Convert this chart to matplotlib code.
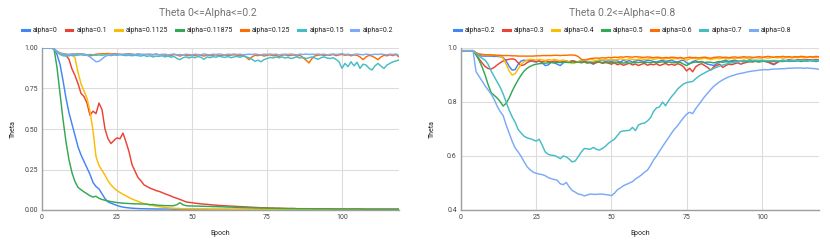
import matplotlib
matplotlib.use("Agg")
import matplotlib.pyplot as plt
from matplotlib.lines import Line2D

plt.rcParams['font.family'] = ['Roboto', 'DejaVu Sans']

epochs = list(range(120))

# ---- left chart: Theta 0<=Alpha<=0.2 ----
left_labels = ['alpha=0', 'alpha=0.1', 'alpha=0.1125', 'alpha=0.11875',
               'alpha=0.125', 'alpha=0.15', 'alpha=0.2']

a_0 = [1.0, 1.0, 1.0, 1.0, 0.995, 0.96, 0.90, 0.80, 0.69, 0.60,
       0.53, 0.46, 0.39, 0.34, 0.30, 0.26, 0.22, 0.17, 0.145, 0.13,
       0.10, 0.07, 0.05, 0.042, 0.035, 0.028, 0.022, 0.018, 0.015, 0.013,
       0.011, 0.010, 0.009, 0.008, 0.008, 0.007, 0.007, 0.007, 0.006, 0.006,
       0.006, 0.006, 0.006, 0.006, 0.005, 0.005, 0.005, 0.005, 0.005, 0.005,
       0.005, 0.005, 0.005, 0.004, 0.005, 0.004, 0.004, 0.004, 0.004, 0.004,
       0.004, 0.004, 0.004, 0.004, 0.004, 0.004, 0.004, 0.004, 0.004, 0.004,
       0.004, 0.004, 0.003, 0.004, 0.003, 0.003, 0.003, 0.003, 0.003, 0.003,
       0.003, 0.003, 0.003, 0.003, 0.003, 0.003, 0.003, 0.003, 0.003, 0.003,
       0.003, 0.003, 0.003, 0.003, 0.003, 0.003, 0.003, 0.003, 0.003, 0.003,
       0.003, 0.003, 0.003, 0.003, 0.003, 0.003, 0.003, 0.003, 0.003, 0.003,
       0.003, 0.003, 0.003, 0.003, 0.003, 0.003, 0.003, 0.003, 0.003, 0.003]

a_01 = [1.0, 1.0, 1.0, 1.0, 0.995, 0.975, 0.965, 0.96, 0.955, 0.93,
        0.87, 0.83, 0.78, 0.72, 0.70, 0.66, 0.585, 0.61, 0.595, 0.66,
        0.62, 0.50, 0.44, 0.41, 0.43, 0.445, 0.44, 0.475, 0.42, 0.36,
        0.28, 0.24, 0.20, 0.18, 0.155, 0.145, 0.135, 0.128, 0.12, 0.115,
        0.108, 0.10, 0.093, 0.086, 0.078, 0.072, 0.065, 0.058, 0.05, 0.047,
        0.045, 0.042, 0.04, 0.038, 0.036, 0.035, 0.033, 0.031, 0.03, 0.028,
        0.027, 0.026, 0.025, 0.024, 0.023, 0.022, 0.021, 0.02, 0.019, 0.018,
        0.017, 0.016, 0.015, 0.014, 0.014, 0.013, 0.012, 0.012, 0.011, 0.011,
        0.010, 0.010, 0.009, 0.009, 0.009, 0.008, 0.008, 0.008, 0.008, 0.007,
        0.007, 0.007, 0.007, 0.007, 0.007, 0.007, 0.007, 0.007, 0.006, 0.006,
        0.006, 0.006, 0.006, 0.006, 0.006, 0.006, 0.006, 0.006, 0.005, 0.005,
        0.005, 0.005, 0.005, 0.005, 0.005, 0.005, 0.005, 0.005, 0.005, 0.005]

a_01125 = [1.0, 1.0, 1.0, 1.0, 0.995, 0.975, 0.965, 0.96, 0.96, 0.958,
           0.955, 0.94, 0.85, 0.78, 0.735, 0.69, 0.61, 0.49, 0.33, 0.275,
           0.245, 0.215, 0.18, 0.155, 0.135, 0.12, 0.108, 0.097, 0.087, 0.077,
           0.068, 0.06, 0.053, 0.046, 0.04, 0.035, 0.031, 0.027, 0.024, 0.021,
           0.018, 0.016, 0.014, 0.012, 0.011, 0.01, 0.009, 0.008, 0.008, 0.007,
           0.007, 0.007, 0.006, 0.006, 0.006, 0.006, 0.005, 0.005, 0.005, 0.005,
           0.005, 0.005, 0.005, 0.004, 0.004, 0.004, 0.004, 0.004, 0.004, 0.004,
           0.004, 0.004, 0.004, 0.004, 0.004, 0.003, 0.003, 0.003, 0.003, 0.003,
           0.003, 0.003, 0.003, 0.003, 0.003, 0.003, 0.003, 0.003, 0.003, 0.003,
           0.003, 0.003, 0.003, 0.003, 0.003, 0.003, 0.003, 0.003, 0.003, 0.003,
           0.003, 0.003, 0.003, 0.003, 0.003, 0.003, 0.003, 0.003, 0.003, 0.003,
           0.003, 0.003, 0.003, 0.003, 0.003, 0.003, 0.003, 0.003, 0.003, 0.003]

a_011875 = [1.0, 1.0, 1.0, 1.0, 0.995, 0.88, 0.72, 0.56, 0.42, 0.31,
            0.23, 0.175, 0.14, 0.125, 0.112, 0.10, 0.088, 0.08, 0.085, 0.072,
            0.065, 0.06, 0.056, 0.052, 0.049, 0.046, 0.044, 0.042, 0.041, 0.04,
            0.039, 0.038, 0.038, 0.037, 0.037, 0.036, 0.033, 0.034, 0.031, 0.029,
            0.028, 0.027, 0.027, 0.026, 0.027, 0.033, 0.045, 0.032, 0.027, 0.025,
            0.025, 0.024, 0.024, 0.023, 0.023, 0.022, 0.022, 0.021, 0.021, 0.02,
            0.02, 0.019, 0.018, 0.018, 0.017, 0.016, 0.016, 0.015, 0.015, 0.014,
            0.014, 0.013, 0.013, 0.012, 0.012, 0.011, 0.011, 0.011, 0.01, 0.01,
            0.01, 0.009, 0.009, 0.009, 0.009, 0.008, 0.008, 0.008, 0.008, 0.008,
            0.007, 0.007, 0.007, 0.007, 0.007, 0.007, 0.007, 0.006, 0.006, 0.006,
            0.006, 0.006, 0.006, 0.006, 0.006, 0.006, 0.006, 0.005, 0.005, 0.005,
            0.005, 0.005, 0.005, 0.005, 0.005, 0.005, 0.005, 0.005, 0.005, 0.005]

a_0125 = [1.0, 1.0, 1.0, 1.0, 0.995, 0.98, 0.97, 0.965, 0.962, 0.96,
          0.962, 0.963, 0.965, 0.964, 0.962, 0.958, 0.952, 0.955, 0.962, 0.963,
          0.965, 0.964, 0.966, 0.963, 0.965, 0.964, 0.962, 0.958, 0.963, 0.965,
          0.962, 0.958, 0.963, 0.96, 0.955, 0.962, 0.96, 0.957, 0.962, 0.958,
          0.96, 0.955, 0.958, 0.952, 0.96, 0.956, 0.95, 0.958, 0.955, 0.952,
          0.957, 0.953, 0.958, 0.955, 0.95, 0.957, 0.953, 0.955, 0.958, 0.952,
          0.955, 0.957, 0.953, 0.956, 0.958, 0.955, 0.952, 0.957, 0.945, 0.928,
          0.945, 0.955, 0.953, 0.957, 0.95, 0.955, 0.958, 0.952, 0.955, 0.948,
          0.955, 0.958, 0.952, 0.955, 0.957, 0.95, 0.955, 0.94, 0.925, 0.908,
          0.935, 0.952, 0.955, 0.958, 0.953, 0.957, 0.955, 0.96, 0.953, 0.957,
          0.96, 0.955, 0.958, 0.952, 0.957, 0.955, 0.945, 0.928, 0.945, 0.955,
          0.95, 0.94, 0.928, 0.945, 0.955, 0.952, 0.958, 0.953, 0.96, 0.945]

a_015 = [1.0, 1.0, 1.0, 1.0, 0.995, 0.975, 0.96, 0.952, 0.95, 0.952,
         0.955, 0.953, 0.956, 0.958, 0.955, 0.957, 0.96, 0.958, 0.955, 0.957,
         0.955, 0.958, 0.956, 0.953, 0.957, 0.955, 0.958, 0.956, 0.953, 0.955,
         0.952, 0.955, 0.953, 0.95, 0.955, 0.948, 0.952, 0.945, 0.95, 0.948,
         0.952, 0.945, 0.95, 0.943, 0.948, 0.935, 0.928, 0.94, 0.945, 0.938,
         0.945, 0.94, 0.948, 0.942, 0.93, 0.945, 0.94, 0.947, 0.943, 0.95,
         0.945, 0.942, 0.948, 0.94, 0.945, 0.948, 0.943, 0.95, 0.945, 0.94,
         0.93, 0.918, 0.925, 0.915, 0.928, 0.935, 0.942, 0.938, 0.945, 0.94,
         0.945, 0.938, 0.942, 0.935, 0.94, 0.945, 0.938, 0.942, 0.935, 0.94,
         0.945, 0.938, 0.93, 0.94, 0.945, 0.938, 0.935, 0.94, 0.93, 0.915,
         0.875, 0.905, 0.885, 0.915, 0.89, 0.912, 0.874, 0.9, 0.895, 0.875,
         0.864, 0.89, 0.905, 0.888, 0.874, 0.895, 0.905, 0.915, 0.92, 0.926]

a_02 = [1.0, 1.0, 1.0, 1.0, 0.995, 0.98, 0.968, 0.962, 0.96, 0.96,
        0.962, 0.963, 0.962, 0.964, 0.96, 0.955, 0.945, 0.93, 0.915, 0.918,
        0.932, 0.948, 0.955, 0.958, 0.96, 0.962, 0.96, 0.962, 0.963, 0.96,
        0.962, 0.96, 0.963, 0.96, 0.962, 0.958, 0.962, 0.96, 0.963, 0.958,
        0.96, 0.962, 0.958, 0.96, 0.963, 0.958, 0.96, 0.957, 0.962, 0.96,
        0.958, 0.962, 0.96, 0.958, 0.963, 0.96, 0.958, 0.962, 0.96, 0.963,
        0.96, 0.958, 0.962, 0.96, 0.963, 0.96, 0.962, 0.958, 0.96, 0.962,
        0.96, 0.963, 0.96, 0.958, 0.962, 0.96, 0.963, 0.96, 0.962, 0.958,
        0.96, 0.962, 0.96, 0.963, 0.96, 0.958, 0.962, 0.96, 0.963, 0.96,
        0.962, 0.96, 0.963, 0.96, 0.962, 0.958, 0.96, 0.963, 0.96, 0.962,
        0.965, 0.96, 0.962, 0.958, 0.96, 0.963, 0.96, 0.958, 0.962, 0.96,
        0.958, 0.962, 0.96, 0.963, 0.96, 0.958, 0.962, 0.96, 0.963, 0.955]

# ---- right chart: Theta 0.2<=Alpha<=0.8 ----
right_labels = ['alpha=0.2', 'alpha=0.3', 'alpha=0.4', 'alpha=0.5',
                'alpha=0.6', 'alpha=0.7', 'alpha=0.8']

b_02 = [0.99, 0.99, 0.99, 0.99, 0.99, 0.98, 0.972, 0.97, 0.97, 0.97,
        0.97, 0.969, 0.969, 0.968, 0.965, 0.952, 0.932, 0.918, 0.92, 0.94,
        0.952, 0.955, 0.953, 0.955, 0.95, 0.948, 0.952, 0.945, 0.935, 0.937,
        0.948, 0.945, 0.94, 0.935, 0.945, 0.952, 0.948, 0.953, 0.95, 0.948,
        0.952, 0.95, 0.948, 0.945, 0.94, 0.947, 0.952, 0.955, 0.95, 0.953,
        0.95, 0.955, 0.952, 0.948, 0.955, 0.95, 0.953, 0.948, 0.952, 0.955,
        0.952, 0.95, 0.955, 0.953, 0.95, 0.948, 0.952, 0.955, 0.95, 0.953,
        0.955, 0.95, 0.948, 0.953, 0.955, 0.945, 0.942, 0.95, 0.953, 0.948,
        0.95, 0.945, 0.94, 0.938, 0.935, 0.942, 0.948, 0.952, 0.955, 0.95,
        0.953, 0.955, 0.952, 0.95, 0.955, 0.952, 0.957, 0.953, 0.955, 0.952,
        0.955, 0.952, 0.948, 0.942, 0.938, 0.945, 0.952, 0.955, 0.953, 0.957,
        0.955, 0.952, 0.957, 0.954, 0.956, 0.953, 0.957, 0.955, 0.958, 0.955]

b_03 = [0.99, 0.99, 0.99, 0.99, 0.99, 0.975, 0.96, 0.945, 0.932, 0.924,
        0.922, 0.928, 0.937, 0.945, 0.952, 0.956, 0.958, 0.96, 0.957, 0.945,
        0.935, 0.938, 0.946, 0.951, 0.953, 0.95, 0.952, 0.948, 0.953, 0.95,
        0.948, 0.952, 0.95, 0.953, 0.948, 0.951, 0.949, 0.952, 0.95, 0.948,
        0.945, 0.948, 0.944, 0.947, 0.942, 0.946, 0.948, 0.943, 0.946, 0.944,
        0.94, 0.945, 0.938, 0.942, 0.936, 0.94, 0.944, 0.937, 0.941, 0.935,
        0.94, 0.943, 0.936, 0.94, 0.938, 0.942, 0.935, 0.939, 0.943, 0.937,
        0.94, 0.936, 0.942, 0.938, 0.93, 0.915, 0.925, 0.912, 0.93, 0.938,
        0.942, 0.935, 0.928, 0.918, 0.93, 0.936, 0.94, 0.928, 0.935, 0.94,
        0.938, 0.942, 0.945, 0.94, 0.944, 0.947, 0.95, 0.948, 0.952, 0.95,
        0.953, 0.95, 0.948, 0.945, 0.94, 0.947, 0.952, 0.95, 0.953, 0.955,
        0.952, 0.955, 0.953, 0.956, 0.954, 0.957, 0.955, 0.953, 0.956, 0.955]

b_04 = [0.99, 0.99, 0.99, 0.99, 0.99, 0.982, 0.977, 0.976, 0.975, 0.975,
        0.974, 0.973, 0.972, 0.97, 0.962, 0.94, 0.915, 0.9, 0.905, 0.922,
        0.94, 0.95, 0.955, 0.958, 0.957, 0.955, 0.958, 0.956, 0.954, 0.957,
        0.955, 0.958, 0.955, 0.953, 0.956, 0.952, 0.948, 0.942, 0.945, 0.95,
        0.955, 0.957, 0.955, 0.958, 0.956, 0.953, 0.957, 0.955, 0.958, 0.956,
        0.958, 0.955, 0.957, 0.96, 0.958, 0.955, 0.96, 0.958, 0.956, 0.959,
        0.96, 0.957, 0.959, 0.961, 0.958, 0.96, 0.962, 0.958, 0.96, 0.962,
        0.959, 0.961, 0.96, 0.962, 0.958, 0.955, 0.96, 0.962, 0.96, 0.958,
        0.96, 0.962, 0.96, 0.957, 0.96, 0.962, 0.96, 0.963, 0.961, 0.96,
        0.962, 0.96, 0.963, 0.961, 0.964, 0.962, 0.96, 0.963, 0.965, 0.962,
        0.963, 0.965, 0.962, 0.964, 0.966, 0.963, 0.965, 0.962, 0.964, 0.966,
        0.963, 0.965, 0.964, 0.966, 0.963, 0.965, 0.967, 0.964, 0.966, 0.965]

b_05 = [0.99, 0.99, 0.99, 0.99, 0.99, 0.975, 0.955, 0.93, 0.9, 0.865,
        0.835, 0.825, 0.815, 0.802, 0.785, 0.795, 0.815, 0.84, 0.862, 0.882,
        0.9, 0.915, 0.925, 0.932, 0.937, 0.94, 0.942, 0.943, 0.944, 0.945,
        0.946, 0.945, 0.947, 0.946, 0.948, 0.947, 0.946, 0.948, 0.947, 0.948,
        0.947, 0.948, 0.946, 0.948, 0.947, 0.949, 0.948, 0.946, 0.948, 0.947,
        0.946, 0.948, 0.945, 0.947, 0.944, 0.946, 0.943, 0.945, 0.947, 0.946,
        0.948, 0.946, 0.947, 0.945, 0.948, 0.946, 0.947, 0.949, 0.946, 0.948,
        0.947, 0.945, 0.948, 0.946, 0.94, 0.935, 0.942, 0.946, 0.948, 0.947,
        0.949, 0.946, 0.948, 0.947, 0.945, 0.948, 0.95, 0.947, 0.949, 0.948,
        0.95, 0.948, 0.949, 0.951, 0.948, 0.95, 0.949, 0.951, 0.95, 0.948,
        0.95, 0.952, 0.949, 0.951, 0.95, 0.952, 0.95, 0.951, 0.953, 0.95,
        0.952, 0.951, 0.953, 0.95, 0.952, 0.951, 0.953, 0.952, 0.95, 0.952]

b_06 = [0.99, 0.99, 0.99, 0.99, 0.99, 0.982, 0.978, 0.976, 0.975, 0.975,
        0.974, 0.974, 0.973, 0.973, 0.972, 0.972, 0.972, 0.971, 0.971, 0.97,
        0.97, 0.97, 0.97, 0.97, 0.97, 0.971, 0.971, 0.972, 0.972, 0.972,
        0.972, 0.973, 0.973, 0.972, 0.973, 0.973, 0.974, 0.974, 0.973, 0.968,
        0.958, 0.955, 0.958, 0.961, 0.962, 0.963, 0.962, 0.964, 0.963, 0.965,
        0.964, 0.966, 0.965, 0.967, 0.966, 0.968, 0.967, 0.966, 0.968, 0.967,
        0.966, 0.965, 0.967, 0.966, 0.964, 0.966, 0.965, 0.963, 0.965, 0.964,
        0.966, 0.965, 0.963, 0.965, 0.962, 0.964, 0.966, 0.964, 0.965, 0.963,
        0.965, 0.966, 0.964, 0.962, 0.965, 0.966, 0.967, 0.965, 0.966, 0.964,
        0.966, 0.967, 0.965, 0.966, 0.968, 0.966, 0.967, 0.965, 0.966, 0.968,
        0.966, 0.967, 0.969, 0.967, 0.966, 0.968, 0.967, 0.969, 0.967, 0.968,
        0.966, 0.968, 0.967, 0.969, 0.968, 0.966, 0.968, 0.967, 0.969, 0.967]

b_07 = [0.99, 0.99, 0.99, 0.99, 0.99, 0.98, 0.97, 0.962, 0.955, 0.94,
        0.915, 0.895, 0.875, 0.855, 0.83, 0.80, 0.77, 0.745, 0.725, 0.698,
        0.685, 0.673, 0.667, 0.664, 0.66, 0.655, 0.662, 0.64, 0.615, 0.606,
        0.603, 0.602, 0.597, 0.59, 0.60, 0.597, 0.588, 0.578, 0.582, 0.598,
        0.615, 0.628, 0.626, 0.625, 0.632, 0.625, 0.622, 0.628, 0.636, 0.647,
        0.655, 0.662, 0.676, 0.69, 0.693, 0.694, 0.695, 0.706, 0.694, 0.715,
        0.72, 0.722, 0.73, 0.742, 0.765, 0.778, 0.782, 0.80, 0.786, 0.805,
        0.82, 0.833, 0.848, 0.858, 0.867, 0.872, 0.874, 0.876, 0.886, 0.895,
        0.902, 0.908, 0.914, 0.919, 0.924, 0.929, 0.933, 0.937, 0.94, 0.943,
        0.945, 0.947, 0.949, 0.951, 0.952, 0.953, 0.953, 0.954, 0.953, 0.954,
        0.953, 0.954, 0.953, 0.953, 0.954, 0.953, 0.953, 0.954, 0.953, 0.953,
        0.954, 0.953, 0.953, 0.954, 0.953, 0.953, 0.954, 0.953, 0.953, 0.953]

b_08 = [0.99, 0.99, 0.99, 0.99, 0.99, 0.912, 0.895, 0.878, 0.86, 0.845,
        0.83, 0.81, 0.785, 0.765, 0.75, 0.715, 0.685, 0.655, 0.63, 0.615,
        0.598, 0.578, 0.56, 0.549, 0.54, 0.536, 0.533, 0.531, 0.527, 0.52,
        0.516, 0.513, 0.51, 0.497, 0.494, 0.502, 0.485, 0.472, 0.466, 0.459,
        0.457, 0.452, 0.456, 0.459, 0.458, 0.458, 0.459, 0.459, 0.457, 0.456,
        0.453, 0.462, 0.475, 0.482, 0.49, 0.495, 0.50, 0.505, 0.515, 0.522,
        0.53, 0.54, 0.548, 0.565, 0.585, 0.60, 0.618, 0.635, 0.652, 0.668,
        0.685, 0.70, 0.712, 0.728, 0.742, 0.755, 0.762, 0.757, 0.775, 0.79,
        0.805, 0.82, 0.833, 0.846, 0.858, 0.867, 0.875, 0.882, 0.888, 0.893,
        0.897, 0.90, 0.904, 0.906, 0.908, 0.911, 0.913, 0.915, 0.916, 0.918,
        0.919, 0.92, 0.919, 0.921, 0.922, 0.922, 0.923, 0.923, 0.924, 0.925,
        0.925, 0.926, 0.926, 0.926, 0.925, 0.926, 0.925, 0.924, 0.923, 0.921]

colors = ['#4285F4', '#EA4335', '#FBBC04', '#34A853', '#FF6D01', '#46BDC6', '#7BAAF7']

left_series = [a_0, a_01, a_01125, a_011875, a_0125, a_015, a_02]
right_series = [b_02, b_03, b_04, b_05, b_06, b_07, b_08]

W, H = 830, 245
fig = plt.figure(figsize=(W / 100, H / 100), dpi=100)

def panel(rect, series, labels, title, yticks, ylim, yfmt, cx):
    ax = fig.add_axes(rect)
    for s, c in zip(series, colors):
        ax.plot(epochs, s, color=c, lw=1.05, solid_joinstyle='round')
    ax.set_xlim(0, 119)
    ax.set_ylim(*ylim)
    ax.set_xticks([0, 25, 50, 75, 100])
    ax.set_yticks(yticks)
    ax.set_yticklabels([yfmt.format(v) for v in yticks])
    ax.grid(True, color='#dcdcdc', lw=0.8)
    ax.set_axisbelow(True)
    for sp in ['top', 'right']:
        ax.spines[sp].set_visible(False)
    for sp in ['left', 'bottom']:
        ax.spines[sp].set_color('#9e9e9e')
        ax.spines[sp].set_linewidth(1.0)
    ax.tick_params(length=0, labelsize=5, labelcolor='#444444', pad=3)
    ax.set_xlabel('Epoch', fontsize=5, color='#222222', va='center')
    ax.xaxis.set_label_coords(0.5, -0.142)
    ax.set_ylabel('Theta', fontsize=5, color='#222222', va='center')
    ax.yaxis.set_label_coords(-0.08, 0.5)
    fig.text(cx / W, 1 - 13 / H, title, ha='center', va='center',
             fontsize=7.5, color='#757575')
    handles = [Line2D([], [], color=c, lw=2.2) for c in colors]
    fig.legend(handles, labels, loc='center', bbox_to_anchor=(cx / W, 1 - 31 / H),
               ncol=7, frameon=False, fontsize=5, handlelength=1.0,
               handletextpad=0.6, columnspacing=1.1, labelcolor='#222222')
    return ax

panel([42 / W, 1 - 210 / H, 357 / W, 162 / H], left_series, left_labels,
      'Theta 0<=Alpha<=0.2', [0, 0.25, 0.5, 0.75, 1.0], (0, 1.0), '{:.2f}', 207.5)
panel([461 / W, 1 - 210 / H, 358 / W, 162 / H], right_series, right_labels,
      'Theta 0.2<=Alpha<=0.8', [0.4, 0.6, 0.8, 1.0], (0.4, 1.0), '{:.1f}', 622.5)

fig.savefig('out.png', dpi=100)
